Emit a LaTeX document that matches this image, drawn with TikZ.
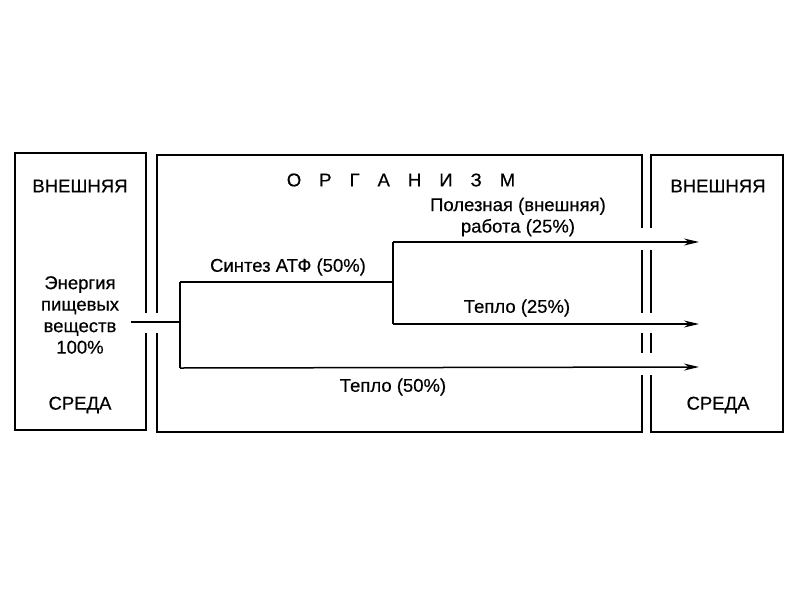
\documentclass[tikz,border=0pt]{standalone}
\usepackage{fontspec}
\setmainfont{Liberation Sans}[FakeBold=0.4]
\usetikzlibrary{arrows.meta}
\begin{document}
\begin{tikzpicture}[x=1pt,y=-1pt,
  wall/.style={line width=2pt},
  flow/.style={line width=1.5pt},
  arr/.style={flow,-{Stealth[length=15pt,width=7pt]}},
  lbl/.style={font=\fontsize{18.5}{21.5}\selectfont,inner sep=0pt,align=center}]
\useasboundingbox (0,0) rectangle (800,600);
% walls
\draw[wall] (146,313) -- (146,153) -- (15,153) -- (15,430) -- (146,430) -- (146,333);
\draw[wall] (157,313) -- (157,155) -- (642,155) -- (642,228);
\draw[wall] (642,250) -- (642,313);
\draw[wall] (642,333) -- (642,353);
\draw[wall] (642,375) -- (642,432) -- (157,432) -- (157,333);
\draw[wall] (651,228) -- (651,155) -- (783,155) -- (783,432) -- (651,432) -- (651,375);
\draw[wall] (651,353) -- (651,333);
\draw[wall] (651,313) -- (651,250);
% texts
\node[lbl] (vnL) at (80,186) {ВНЕШНЯЯ};
\node[lbl] (srL) at (80,405) {СРЕДА};
\node[lbl] (vnR) at (718,186) {ВНЕШНЯЯ};
\node[lbl] (srR) at (718,405) {СРЕДА};
\node[lbl] (food) at (80,315) {Энергия\\пищевых\\веществ\\100\%};
\node[lbl] (org) at (401,180) {О\hspace{18pt}Р\hspace{18pt}Г\hspace{18pt}А\hspace{18pt}Н\hspace{18pt}И\hspace{18pt}З\hspace{18pt}М};
\node[lbl] (work) at (518,217) {Полезная (внешняя)\\работа (25\%)};
\node[lbl] (atp) at (288,267) {Синтез АТФ (50\%)};
\node[lbl] (heat25) at (517,308) {Тепло (25\%)};
\node[lbl] (heat50) at (393,387) {Тепло (50\%)};
% connectors
\coordinate (in) at (131,322);
\coordinate (b1) at (180,322);
\coordinate (b1t) at (180,282);
\coordinate (b1b) at (180,368);
\coordinate (b2) at (393,282);
\coordinate (b2t) at (393,242);
\coordinate (b2b) at (393,324);
\coordinate (e1) at (699,242);
\coordinate (e2) at (699,324);
\coordinate (e3) at (699,367);
\draw[flow] (in) -- (b1);
\draw[flow] (b1t) -- (b1b);
\draw[flow] (b1t) -- (b2);
\draw[flow] (b2t) -- (b2b);
\draw[arr] (b2t) -- (e1);
\draw[arr] (b2b) -- (e2);
\draw[arr] (b1b) -- (e3);
\end{tikzpicture}
\end{document}
